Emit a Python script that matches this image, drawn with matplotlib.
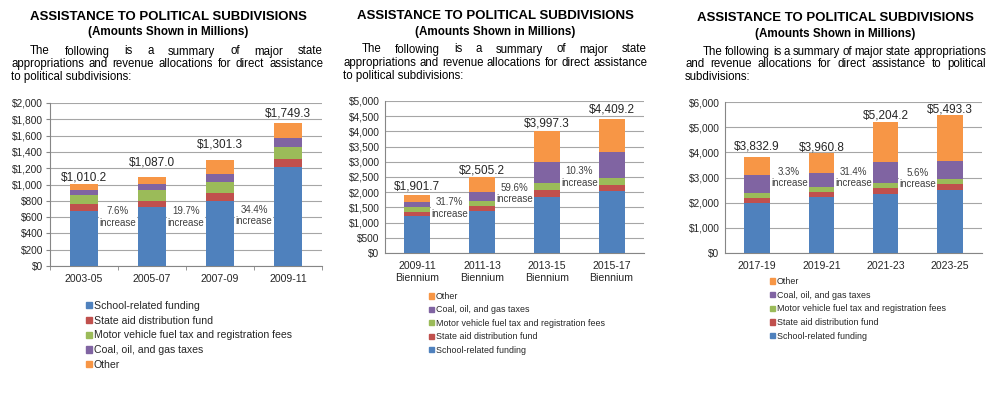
import numpy as np
import matplotlib
matplotlib.use('Agg')
import matplotlib.pyplot as plt
from matplotlib.patches import Patch

plt.rcParams['font.family'] = ['Liberation Sans', 'DejaVu Sans']

W, H = 1006, 420

series_names = ['School-related funding', 'State aid distribution fund',
                'Motor vehicle fuel tax and registration fees',
                'Coal, oil, and gas taxes', 'Other']
colors = ['#4F81BD', '#C0504D', '#9BBB59', '#8064A2', '#F79646']

# panel 1
p1_periods = ['2003-05', '2005-07', '2007-09', '2009-11']
p1_school = [680, 720, 800, 1210]
p1_state_aid = [75, 80, 100, 105]
p1_motor = [120, 135, 130, 150]
p1_coal = [60, 75, 100, 110]
p1_other = [75.2, 77.0, 171.3, 174.3]
p1_totals = [1010.2, 1087.0, 1301.3, 1749.3]
p1_increase = ['7.6%', '19.7%', '34.4%']

# panel 2
p2_periods = ['2009-11\nBiennium', '2011-13\nBiennium', '2013-15\nBiennium', '2015-17\nBiennium']
p2_school = [1210, 1370, 1830, 2040]
p2_state_aid = [130, 180, 250, 210]
p2_motor = [170, 170, 230, 230]
p2_coal = [180, 290, 690, 850]
p2_other = [211.7, 495.2, 997.3, 1079.2]
p2_totals = [1901.7, 2505.2, 3997.3, 4409.2]
p2_increase = ['31.7%', '59.6%', '10.3%']

# panel 3
p3_periods = ['2017-19', '2019-21', '2021-23', '2023-25']
p3_school = [2000, 2220, 2360, 2520]
p3_state_aid = [200, 200, 220, 230]
p3_motor = [200, 200, 200, 190]
p3_coal = [680, 560, 820, 700]
p3_other = [752.9, 780.8, 1604.2, 1853.3]
p3_totals = [3832.9, 3960.8, 5204.2, 5493.3]
p3_increase = ['3.3%', '31.4%', '5.6%']

title = 'ASSISTANCE TO POLITICAL SUBDIVISIONS'
subtitle = '(Amounts Shown in Millions)'

fig = plt.figure(figsize=(W / 100, H / 100), dpi=100)
fig.patch.set_facecolor('white')
renderer = fig.canvas.get_renderer()


def px_axes(left, top, right, bottom):
    return fig.add_axes([left / W, 1 - bottom / H, (right - left) / W, (bottom - top) / H])


def justified(text, x0, x1, y, size=8.3):
    words = text.split()
    objs = [fig.text(x0 / W, 1 - y / H, w, fontsize=size, va='center') for w in words]
    widths = [o.get_window_extent(renderer).width for o in objs]
    gap = ((x1 - x0) - sum(widths)) / (len(words) - 1)
    pos = x0
    for o, w in zip(objs, widths):
        o.set_x(pos / W)
        pos += w + gap


def header(cx, ty, lines, x_left, x_right, indent, ys):
    fig.text(cx / W, 1 - ty / H, title, fontsize=9.5, fontweight='bold', ha='center', va='center')
    fig.text(cx / W, 1 - (ty + 15.5) / H, subtitle, fontsize=8.4, fontweight='bold', ha='center', va='center')
    justified(lines[0], indent, x_right, ys[0])
    justified(lines[1], x_left, x_right, ys[1])
    fig.text(x_left / W, 1 - ys[2] / H, lines[2], fontsize=8.3, va='center')


def panel(ax, periods, layers, totals, increases, ymax, ystep, inc_y, offsets, ticks_on):
    x = np.arange(len(periods))
    bottom = np.zeros(len(periods))
    for vals, c in zip(layers, colors):
        ax.bar(x, vals, 0.4, bottom=bottom, color=c, zorder=3)
        bottom += np.array(vals)
    for xi, t, off in zip(x, totals, offsets):
        ax.annotate('${:,.1f}'.format(t), (xi, t), xytext=(0, off), textcoords='offset points',
                    ha='center', va='center', fontsize=8.5, color='#262626')
    for i, (s, yy) in enumerate(zip(increases, inc_y)):
        ax.text(i + 0.5, yy, s + '\nincrease', ha='center', va='center', fontsize=7,
                color='#404040', linespacing=1.15, zorder=4,
                bbox=dict(fc='white', ec='none', pad=0.6))
    ax.set_xlim(-0.5, len(periods) - 0.5)
    ax.set_ylim(0, ymax)
    ticks = np.arange(0, ymax + 1, ystep)
    ax.set_yticks(ticks)
    ax.set_yticklabels(['${:,.0f}'.format(t) for t in ticks])
    ax.set_xticks(x)
    ax.set_xticklabels(periods, linespacing=1.2)
    ax.set_xticks(np.arange(-0.5, len(periods)), minor=True)
    tl = 3 if ticks_on else 0
    ax.tick_params(axis='x', which='major', length=0, labelsize=7.6, pad=6, colors='#262626')
    ax.tick_params(axis='x', which='minor', length=tl, color='#868686')
    ax.tick_params(axis='y', length=tl, labelsize=7.3, color='#868686', labelcolor='#262626',
                   pad=2 if ticks_on else 4)
    ax.grid(axis='y', color='#A6A6A6', linewidth=0.8, zorder=0)
    for s in ['top', 'right']:
        ax.spines[s].set_visible(False)
    for s in ['left', 'bottom']:
        ax.spines[s].set_color('#868686')
        ax.spines[s].set_linewidth(0.8)


def legend(order, x, y, size, spacing):
    handles = [Patch(color=colors[i], label=series_names[i]) for i in order]
    fig.legend(handles=handles, loc='upper left', bbox_to_anchor=(x / W, 1 - y / H),
               frameon=False, fontsize=size, handlelength=0.55, handleheight=0.55,
               handletextpad=0.2, labelspacing=spacing, borderpad=0, borderaxespad=0,
               labelcolor='#262626')


# panel 1
header(168, 17,
       ['The following is a summary of major state',
        'appropriations and revenue allocations for direct assistance',
        'to political subdivisions:'],
       11, 323, 30, [51.5, 64, 77])
ax1 = px_axes(50, 103, 322, 266)
panel(ax1, p1_periods, [p1_school, p1_state_aid, p1_motor, p1_coal, p1_other], p1_totals,
      p1_increase, 2000, 200, [600, 600, 615], [4.5, 11, 11, 7], True)
legend([0, 1, 2, 3, 4], 86, 301, 7.6, 0.45)

# panel 2
header(495, 16,
       ['The following is a summary of major state',
        'appropriations and revenue allocations for direct assistance',
        'to political subdivisions:'],
       343, 647, 362, [49.5, 63, 76])
ax2 = px_axes(385, 101, 644, 253)
panel(ax2, p2_periods, [p2_school, p2_state_aid, p2_motor, p2_coal, p2_other], p2_totals,
      p2_increase, 5000, 500, [1480, 1970, 2500], [6, 4.5, 5.5, 7], False)
legend([4, 3, 2, 1, 0], 429, 292, 6.4, 0.5)

# panel 3
header(835, 18,
       ['The following is a summary of major state appropriations',
        'and revenue allocations for direct assistance to political',
        'subdivisions:'],
       685, 986, 703, [52, 64, 77])
ax3 = px_axes(725, 102, 982, 253)
panel(ax3, p3_periods, [p3_school, p3_state_aid, p3_motor, p3_coal, p3_other], p3_totals,
      p3_increase, 6000, 1000, [3000, 3000, 2950], [7, 4.5, 4.5, 4], False)
legend([4, 3, 2, 1, 0], 770, 277, 6.4, 0.53)

fig.savefig('out.png', dpi=100, facecolor='white')
